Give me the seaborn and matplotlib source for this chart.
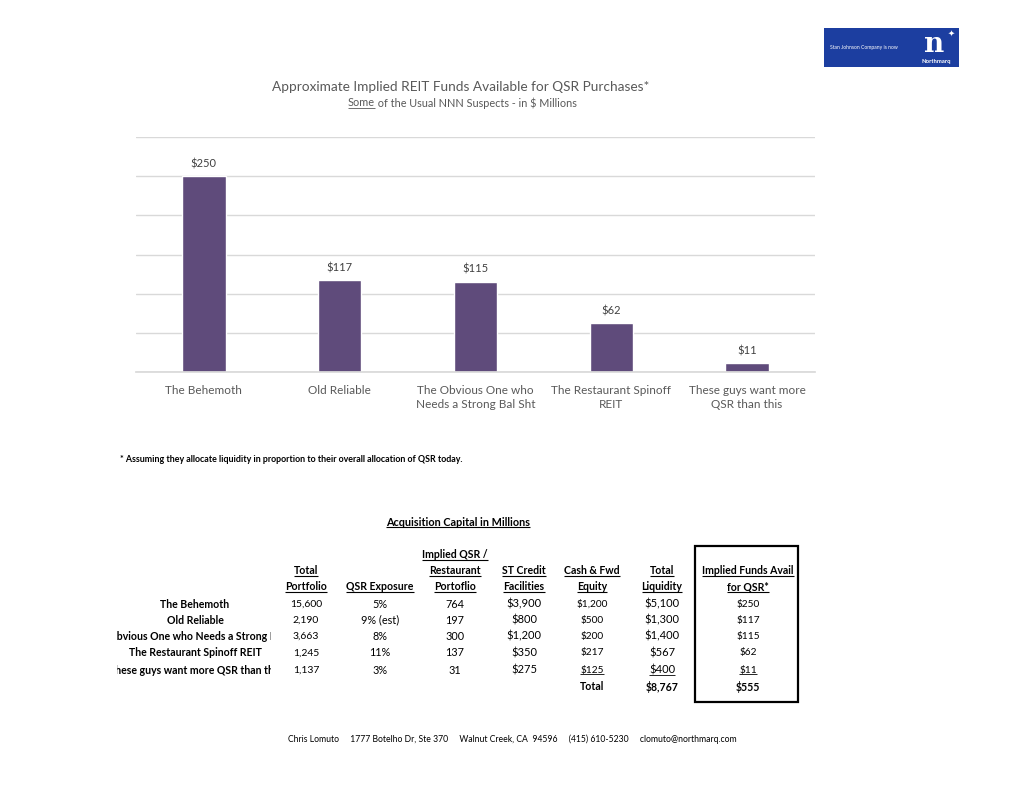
import matplotlib.pyplot as plt
import matplotlib.patches as mpatches
import seaborn as sns

# chart data
categories = [
    'The Behemoth',
    'Old Reliable',
    'The Obvious One who\nNeeds a Strong Bal Sht',
    'The Restaurant Spinoff\nREIT',
    'These guys want more\nQSR than this',
]
implied_funds = [250, 117, 115, 62, 11]

# table data
row_names = [
    'The Behemoth',
    'Old Reliable',
    'The Obvious One who Needs a Strong Bal Sht',
    'The Restaurant Spinoff REIT',
    'These guys want more QSR than this',
]
total_portfolio = ['15,600', '2,190', '3,663', '1,245', '1,137']
qsr_exposure = ['5%', '9% (est)', '8%', '11%', '3%']
implied_qsr = ['764', '197', '300', '137', '31']
st_credit = ['$3,900', '$800', '$1,200', '$350', '$275']
cash_equity = ['$1,200', '$500', '$200', '$217', '$125']
total_liquidity = ['$5,100', '$1,300', '$1,400', '$567', '$400']
total_liquidity_sum = '$8,767'
implied_funds_sum = '$555'

sns.set_theme(style='white')
plt.rcParams['font.family'] = ['Lato', 'DejaVu Sans']

W, H = 1024, 791
fig = plt.figure(figsize=(W / 100, H / 100), dpi=100)
fig.patch.set_facecolor('white')

# --- bar chart ---
ax = fig.add_axes([136 / W, 1 - 372 / H, 679 / W, 235 / H])
sns.barplot(x=categories, y=implied_funds, color='#5F4B7B', saturation=1,
            width=0.32, ax=ax)
ax.set_xlim(-0.5, 4.5)
ax.set_ylim(0, 300)
ax.set_yticks(range(0, 301, 50))
ax.yaxis.grid(True, color='#d9d9d9', linewidth=1)
ax.set_axisbelow(True)
ax.tick_params(axis='y', left=False, labelleft=False)
ax.tick_params(axis='x', bottom=False, labelsize=8.5, colors='#595959', pad=3)
for lbl in ax.get_xticklabels():
    lbl.set_linespacing(1.4)
for s in ['left', 'right', 'top']:
    ax.spines[s].set_visible(False)
ax.spines['bottom'].set_color('#d9d9d9')
ax.set_xlabel('')
ax.set_ylabel('')
ax.bar_label(ax.containers[0], labels=[f'${v}' for v in implied_funds],
             padding=5, fontsize=8, color='#404040')

# --- overlay in pixel coordinates for the page texts ---
ov = fig.add_axes([0, 0, 1, 1])
ov.set_xlim(0, W)
ov.set_ylim(H, 0)
ov.axis('off')
ov.patch.set_alpha(0)

renderer = fig.canvas.get_renderer()


def underline(t, lw=0.8, gap=0.5):
    bb = t.get_window_extent(renderer)
    inv = ov.transData.inverted()
    (x0, y0), (x1, _) = inv.transform([(bb.x0, bb.y0), (bb.x1, bb.y0)])
    ov.plot([x0, x1], [y0 - gap, y0 - gap], color=t.get_color(), lw=lw,
            solid_capstyle='butt')


# title
ov.text(461, 87, 'Approximate Implied REIT Funds Available for QSR Purchases*',
        ha='center', va='center', fontsize=9.8, color='#595959')
sub_rest = ' of the Usual NNN Suspects - in $ Millions'
tmp = ov.text(0, 0, 'Some' + sub_rest, fontsize=7.8)
full_w = tmp.get_window_extent(renderer).width
tmp.remove()
x_start = 462 - full_w / 2
t_some = ov.text(x_start, 103, 'Some', ha='left', va='center', fontsize=7.8,
                 color='#595959')
underline(t_some, lw=0.6)
some_w = t_some.get_window_extent(renderer).width
ov.text(x_start + some_w, 103, sub_rest, ha='left', va='center', fontsize=7.8,
        color='#595959')

# footnote
ov.text(120, 460, '* Assuming they allocate liquidity in proportion to their '
        'overall allocation of QSR today.', ha='left', va='center',
        fontsize=6.4, fontweight='bold', color='black')

# table title
t = ov.text(458, 522, 'Acquisition Capital in Millions', ha='center',
            va='center', fontsize=7.8, fontweight='bold', color='black')
underline(t)

# headers
headers = [
    (306, ['Total', 'Portfolio'], [571, 587]),
    (380, ['QSR Exposure'], [587]),
    (455, ['Implied QSR /', 'Restaurant', 'Portoflio'], [555, 571, 587]),
    (524, ['ST Credit', 'Facilities'], [571, 587]),
    (592, ['Cash & Fwd', 'Equity'], [571, 587]),
    (662, ['Total', 'Liquidity'], [571, 587]),
    (748, ['Implied Funds Avail', 'for QSR*'], [571, 587]),
]
for x, lines, ys in headers:
    for txt, y in zip(lines, ys):
        t = ov.text(x, y, txt, ha='center', va='center', fontsize=7.6,
                    fontweight='bold', color='black')
        underline(t)

row_y = [604, 620, 636, 653, 670]
clip = mpatches.Rectangle((117, 590), 154, 100, transform=ov.transData,
                          fill=False, visible=False)
ov.add_patch(clip)
columns = [
    (306, total_portfolio, 7.5),
    (380, qsr_exposure, 7.8),
    (455, implied_qsr, 7.8),
    (524, st_credit, 8),
    (592, cash_equity, 7.3),
    (662, total_liquidity, 8),
]
for i, y in enumerate(row_y):
    t = ov.text(195, y, row_names[i], ha='center', va='center', fontsize=7.6,
                fontweight='bold', color='black', clip_on=True)
    t.set_clip_path(clip)
    for x, vals, fs in columns:
        t = ov.text(x, y, vals[i], ha='center', va='center', fontsize=fs,
                    color='black')
        if i == len(row_y) - 1 and x in (592, 662):
            underline(t, lw=0.6)
    t = ov.text(748, y, f'${implied_funds[i]}', ha='center', va='center',
                fontsize=7.3, color='black')
    if i == len(row_y) - 1:
        underline(t, lw=0.6)

ov.text(592, 687, 'Total', ha='center', va='center', fontsize=7.6,
        fontweight='bold', color='black')
ov.text(662, 687, total_liquidity_sum, ha='center', va='center', fontsize=7.6,
        fontweight='bold', color='black')
ov.text(748, 687, implied_funds_sum, ha='center', va='center', fontsize=7.6,
        fontweight='bold', color='black')
ov.add_patch(mpatches.Rectangle((695, 546), 103, 156, fill=False,
                                edgecolor='black', linewidth=1.6))

# footer
ov.text(512, 739, 'Chris Lomuto     1777 Botelho Dr, Ste 370     Walnut Creek, '
        'CA  94596     (415) 610-5230     clomuto@northmarq.com',
        ha='center', va='center', fontsize=6.2, color='black')

# logo
ov.add_patch(mpatches.Rectangle((824, 28), 135, 39, facecolor='#1c3ea0',
                                edgecolor='none'))
ov.text(830, 47, 'Stan Johnson Company is now', ha='left', va='center',
        fontsize=3.6, color='white')
ov.text(934, 45, 'n', ha='center', va='center', fontsize=20,
        fontweight='bold', family='DejaVu Serif', color='white')
ov.text(951, 33, '\u2726', ha='center', va='center', fontsize=6,
        family='DejaVu Sans', color='white')
ov.text(936, 61, 'Northmarq', ha='center', va='center', fontsize=4.2,
        fontweight='bold', color='white')

fig.savefig('out.png', dpi=100)
